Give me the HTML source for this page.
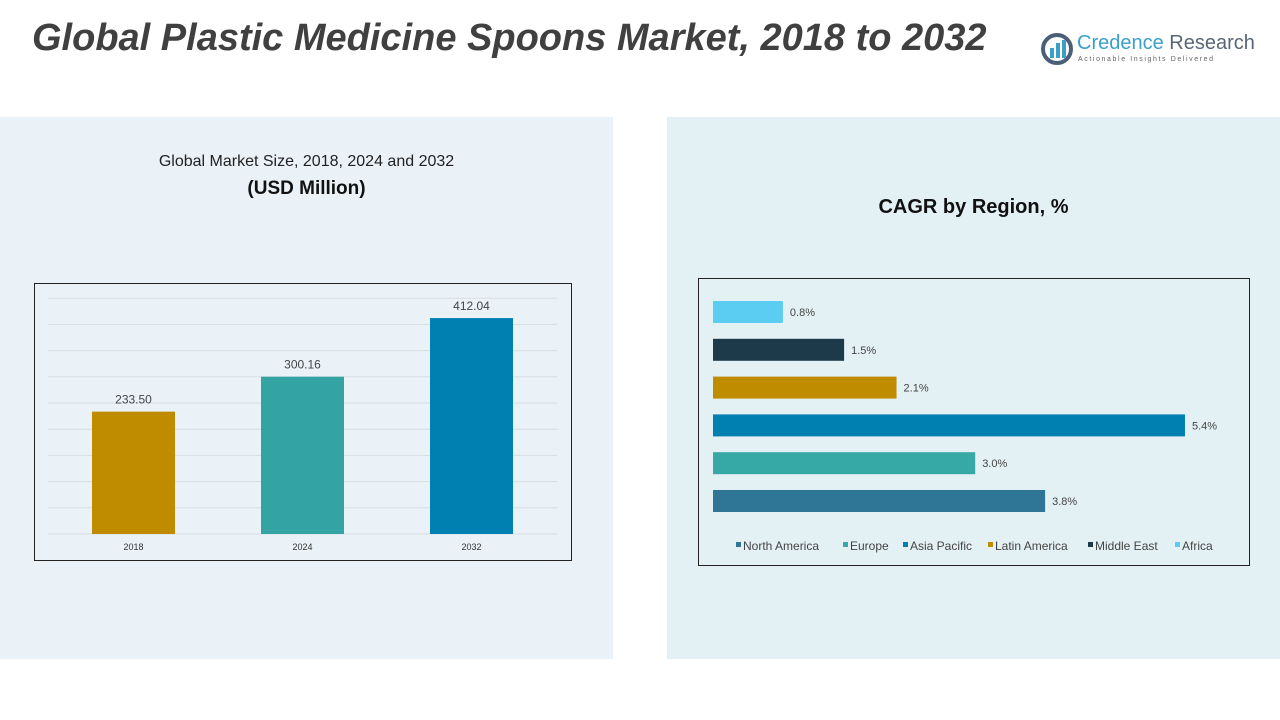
<!DOCTYPE html>
<html><head><meta charset="utf-8"><style>
body{margin:0;width:1280px;height:720px;background:#fff;position:relative;overflow:hidden;font-family:"Liberation Sans",sans-serif}
.abs{position:absolute}
</style></head><body>
<div class="abs" style="left:0;top:117px;width:613px;height:542px;background:#eaf2f8"></div>
<div class="abs" style="left:667px;top:117px;width:613px;height:542px;background:#e4f1f4"></div>
<div class="abs" style="left:32px;top:17px;font-size:38px;font-weight:bold;font-style:italic;color:#404040;white-space:nowrap">Global Plastic Medicine Spoons Market, 2018 to 2032</div>
<div class="abs" style="left:1040px;top:30px;width:220px;height:40px">
<svg width="34" height="34" style="position:absolute;left:0;top:2px"><circle cx="17" cy="17" r="14" fill="none" stroke="#4b6078" stroke-width="4"/><rect x="10" y="16" width="4" height="10" fill="#3aa0c8"/><rect x="16" y="11" width="4" height="15" fill="#3aa0c8"/><rect x="22" y="8" width="4" height="18" fill="#3aa0c8"/></svg>
<div class="abs" style="left:37px;top:2px;font-size:20px;white-space:nowrap"><span style="color:#3aa0c8">Credence</span> <span style="color:#5a6675">Research</span></div>
<div class="abs" style="left:38px;top:26px;font-size:7px;letter-spacing:1.6px;color:#666;white-space:nowrap">Actionable Insights Delivered</div>
</div>
<div class="abs" style="left:0;width:613px;top:153px;text-align:center;font-size:16px;color:#222">Global Market Size, 2018, 2024 and 2032</div>
<div class="abs" style="left:0;width:613px;top:178px;text-align:center;font-size:19px;font-weight:bold;color:#111">(USD Million)</div>
<div class="abs" style="left:667px;width:613px;top:196px;text-align:center;font-size:20px;font-weight:bold;color:#111">CAGR by Region, %</div>
<svg class="abs" style="left:0;top:0" width="1280" height="720" id="charts">
<rect x="34.5" y="283.5" width="537" height="277" fill="none" stroke="#222" stroke-width="1"/>
<rect x="698.5" y="278.5" width="551" height="287" fill="none" stroke="#222" stroke-width="1"/>
<g id="left"></g><g id="right"></g>
</svg>
<script>
const years=["2018","2024","2032"];
const marketValues=[233.50,300.16,412.04];
const barColors=["#bf8c00","#33a3a3","#0080b0"];
const regions=["North America","Europe","Asia Pacific","Latin America","Middle East","Africa"];
const cagrValues=[3.8,3.0,5.4,2.1,1.5,0.8];
const regionColors=["#2e7596","#36a8a6","#0080b0","#bf8c00","#1c3a4a","#5ccdf2"];
const NS="http://www.w3.org/2000/svg";
function mk(t,a,p){const e=document.createElementNS(NS,t);for(const k in a)e.setAttribute(k,a[k]);p.appendChild(e);return e;}
const L=document.getElementById('left');
const base=534,pxU=0.524;
const yL=v=>base-v*pxU;
for(let g=0;g<=450;g+=50){const l=mk('line',{x1:48,x2:557,y1:yL(g),y2:yL(g),stroke:'#d6dde2','stroke-width':1},L);

}
years.forEach((y,i)=>{const cx=133.5+i*169;
const r=mk('rect',{x:cx-41.5,y:yL(marketValues[i]),width:83,height:marketValues[i]*pxU,fill:barColors[i]},L);


const t=mk('text',{x:cx,y:yL(marketValues[i])-8,'text-anchor':'middle','font-size':12,fill:'#444'},L);t.textContent=marketValues[i].toFixed(2);


const xl=mk('text',{x:cx,y:550,'text-anchor':'middle','font-size':9,fill:'#333'},L);xl.textContent=y;

});
const R=document.getElementById('right');
const x0=713,pxC=87.4;
regions.forEach((n,i)=>{const cy=501-i*37.8;
const r=mk('rect',{x:x0,y:cy-11,width:cagrValues[i]*pxC,height:22,fill:regionColors[i]},R);


const t=mk('text',{x:x0+cagrValues[i]*pxC+7,y:cy+4,'font-size':11,fill:'#444'},R);t.textContent=cagrValues[i].toFixed(1)+'%';

});
const lx=[736,843,903,988,1088,1175];
regions.forEach((n,i)=>{const sq=mk('rect',{x:lx[i],y:542,width:5,height:5,fill:regionColors[i]},R);


const t=mk('text',{x:lx[i]+7,y:550,'font-size':12,fill:'#444'},R);t.textContent=n;

});
</script>
</body></html>
